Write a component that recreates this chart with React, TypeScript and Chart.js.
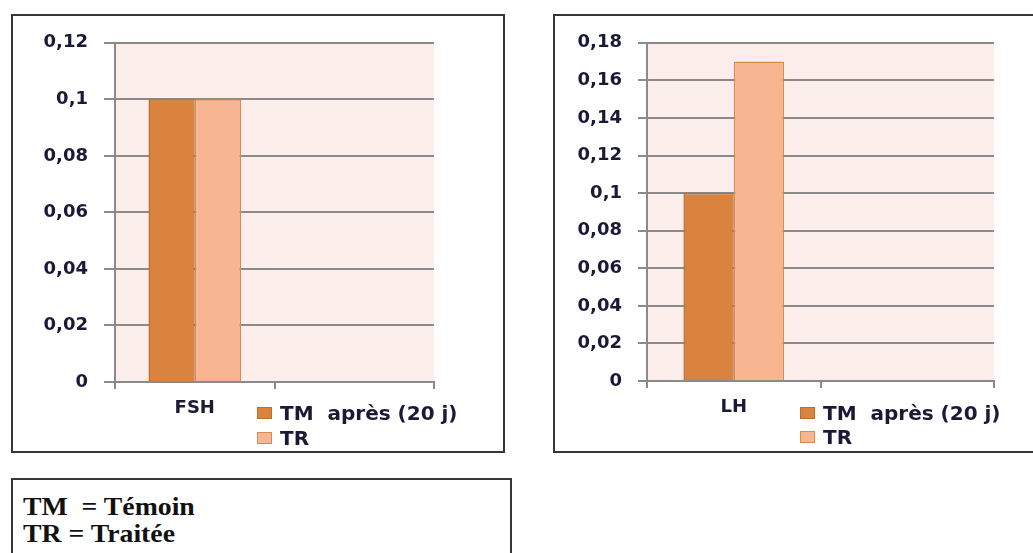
import React, { useEffect, useRef } from "react";
import { Chart, registerables } from "chart.js";

Chart.register(...registerables);

// ---- data ----
const seriesNames = ["TM  après (20 j)", "TR"];
const fshCategories = ["FSH", ""];
const fshTM = [0.1, null];
const fshTR = [0.1, null];
const lhCategories = ["LH", ""];
const lhTM = [0.1, null];
const lhTR = [0.17, null];
const fshTicks = [0, 0.02, 0.04, 0.06, 0.08, 0.1, 0.12];
const lhTicks = [0, 0.02, 0.04, 0.06, 0.08, 0.1, 0.12, 0.14, 0.16, 0.18];
const noteLines = ["TM  = Témoin", "TR = Traitée"];

// ---- styles ----
const seriesFill = ["#D9833F", "#F8B592"];
const seriesBorder = ["#BC6C2E", "#D98A50"];
const plotBgColor = "#FCEEEA";
const gridColor = "#8A8A8A";
const textColor = "#1A1A36";

const plotBg = {
  id: "plotBg",
  beforeDraw(chart: any) {
    const { ctx, chartArea } = chart;
    const { left, top, right, bottom } = chartArea;
    ctx.save();
    ctx.fillStyle = plotBgColor;
    ctx.fillRect(left, top, right - left, bottom - top);
    ctx.restore();
  },
};

type Geo = {
  left: number;
  top: number;
  width: number;
  height: number;
  padTop: number;
  padRight: number;
  yWidth: number;
  xHeight: number;
  yTickLen: number;
};

function BarPanel(props: {
  categories: string[];
  tm: (number | null)[];
  tr: (number | null)[];
  ticks: number[];
  geo: Geo;
}) {
  const ref = useRef<HTMLCanvasElement | null>(null);
  const { categories, tm, tr, ticks, geo } = props;
  useEffect(() => {
    if (!ref.current) return;
    const chart = new Chart(ref.current, {
      type: "bar",
      data: {
        labels: categories,
        datasets: [
          {
            label: seriesNames[0],
            data: tm,
            backgroundColor: seriesFill[0],
            borderColor: seriesBorder[0],
            borderWidth: 1.5,
            categoryPercentage: 0.58,
            barPercentage: 1,
          },
          {
            label: seriesNames[1],
            data: tr,
            backgroundColor: seriesFill[1],
            borderColor: seriesBorder[1],
            borderWidth: 1.5,
            categoryPercentage: 0.58,
            barPercentage: 1,
          },
        ],
      },
      options: {
        animation: false,
        responsive: false,
        maintainAspectRatio: false,
        devicePixelRatio: 1,
        layout: {
          padding: { top: geo.padTop, right: geo.padRight, left: 0, bottom: 0 },
        },
        plugins: {
          legend: { display: false },
          tooltip: { enabled: false },
        },
        scales: {
          x: {
            type: "category",
            offset: true,
            grid: {
              offset: true,
              drawOnChartArea: false,
              drawTicks: true,
              tickLength: 7,
              color: gridColor,
              lineWidth: 2,
            },
            border: { display: true, color: gridColor, width: 2 },
            ticks: {
              color: textColor,
              font: { family: "DejaVu Sans", weight: "bold", size: 18 },
              padding: 9,
              maxRotation: 0,
              autoSkip: false,
            },
            afterFit: (s: any) => {
              s.height = geo.xHeight;
            },
          },
          y: {
            min: 0,
            max: ticks[ticks.length - 1],
            afterBuildTicks: (s: any) => {
              s.ticks = ticks.map((v) => ({ value: v }));
            },
            afterFit: (s: any) => {
              s.width = geo.yWidth;
            },
            ticks: {
              color: textColor,
              font: { family: "DejaVu Sans", weight: "bold", size: 18 },
              padding: 16,
              callback: (v: any) => String(v).replace(".", ","),
            },
            grid: {
              color: gridColor,
              lineWidth: 2,
              drawTicks: true,
              tickLength: geo.yTickLen,
            },
            border: { display: true, color: gridColor, width: 2 },
          },
        },
      },
      plugins: [plotBg],
    } as any);
    return () => chart.destroy();
  }, []);
  return (
    <canvas
      ref={ref}
      width={geo.width}
      height={geo.height}
      style={{
        position: "absolute",
        left: geo.left,
        top: geo.top,
        width: geo.width,
        height: geo.height,
      }}
    />
  );
}

function Legend(props: { left: number; textLeft: number; top: number; gap: number }) {
  const { left, textLeft, top, gap } = props;
  return (
    <>
      {seriesNames.map((name, i) => (
        <div key={i}>
          <div
            style={{
              position: "absolute",
              left,
              top: top + i * gap - 6,
              width: 13,
              height: 10,
              background: seriesFill[i],
              border: `1px solid ${seriesBorder[i]}`,
            }}
          />
          <div
            style={{
              position: "absolute",
              left: textLeft,
              top: top + i * gap - 12,
              height: 24,
              lineHeight: "24px",
              whiteSpace: "pre",
              fontFamily: "DejaVu Sans",
              fontWeight: "bold",
              fontSize: 20,
              color: textColor,
            }}
          >
            {name}
          </div>
        </div>
      ))}
    </>
  );
}

export default function App() {
  const boxBorder = "2px solid #363636";
  return (
    <div
      style={{
        position: "fixed",
        left: 0,
        top: 0,
        width: 1033,
        height: 553,
        overflow: "hidden",
        background: "#FFFFFF",
      }}
    >
      {/* panel 1 frame */}
      <div
        style={{
          position: "absolute",
          left: 11,
          top: 14,
          width: 494,
          height: 439,
          boxSizing: "border-box",
          border: boxBorder,
        }}
      />
      {/* panel 2 frame */}
      <div
        style={{
          position: "absolute",
          left: 553,
          top: 14,
          width: 500,
          height: 439,
          boxSizing: "border-box",
          border: boxBorder,
        }}
      />
      {/* note frame */}
      <div
        style={{
          position: "absolute",
          left: 11,
          top: 478,
          width: 501,
          height: 120,
          boxSizing: "border-box",
          border: boxBorder,
        }}
      />
      <BarPanel
        categories={fshCategories}
        tm={fshTM}
        tr={fshTR}
        ticks={fshTicks}
        geo={{
          left: 13,
          top: 16,
          width: 490,
          height: 435,
          padTop: 17,
          padRight: 69,
          yWidth: 102,
          xHeight: 69,
          yTickLen: 11,
        }}
      />
      <BarPanel
        categories={lhCategories}
        tm={lhTM}
        tr={lhTR}
        ticks={lhTicks}
        geo={{
          left: 555,
          top: 16,
          width: 476,
          height: 435,
          padTop: 17,
          padRight: 37,
          yWidth: 92,
          xHeight: 70,
          yTickLen: 9,
        }}
      />
      <Legend left={257} textLeft={280} top={413} gap={25} />
      <Legend left={800} textLeft={823} top={413} gap={24} />
      <div
        style={{
          position: "absolute",
          left: 23,
          top: 493,
          fontFamily: "Liberation Serif",
          fontWeight: "bold",
          fontSize: 25,
          lineHeight: "27px",
          color: "#111111",
          whiteSpace: "pre",
          transform: "scaleX(1.11)",
          transformOrigin: "left top",
        }}
      >
        {noteLines.map((l, i) => (
          <div key={i}>{l}</div>
        ))}
      </div>
    </div>
  );
}
